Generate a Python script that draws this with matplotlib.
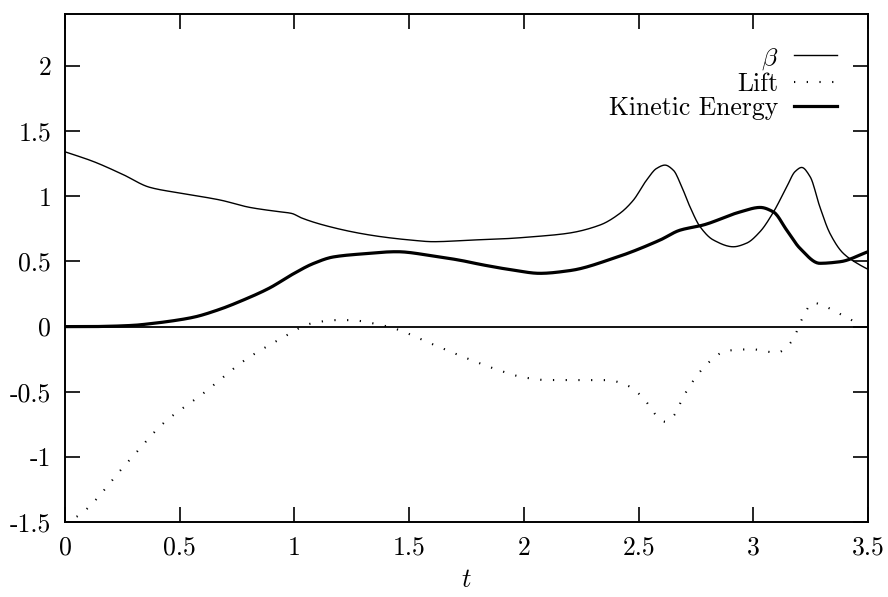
import matplotlib
matplotlib.use("Agg")
import matplotlib.pyplot as plt
import numpy as np

plt.rcParams['font.family'] = 'serif'
plt.rcParams['font.serif'] = ['cmr10']
plt.rcParams['mathtext.fontset'] = 'cm'
plt.rcParams['axes.unicode_minus'] = False

# beta (thin solid)
beta_t = [0.0, 0.12, 0.25, 0.37, 0.52, 0.676, 0.806, 0.92, 0.988, 1.03, 1.126, 1.286, 1.40, 1.504,
          1.605, 1.78, 1.92, 2.04, 2.19, 2.332, 2.419, 2.477, 2.535, 2.579, 2.615, 2.652, 2.688,
          2.724, 2.768, 2.826, 2.913, 2.97, 3.03, 3.088, 3.146, 3.182, 3.211, 3.248, 3.29, 3.334,
          3.392, 3.465, 3.5]
beta_v = [1.342, 1.27, 1.17, 1.069, 1.02, 0.972, 0.915, 0.885, 0.869, 0.835, 0.78, 0.716, 0.685, 0.665,
          0.652, 0.665, 0.675, 0.69, 0.716, 0.78, 0.87, 0.97, 1.125, 1.215, 1.24, 1.20, 1.074,
          0.92, 0.767, 0.665, 0.613, 0.64, 0.73, 0.88, 1.074, 1.19, 1.222, 1.15, 0.92, 0.716,
          0.563, 0.473, 0.44]

# kinetic energy (thick solid)
ke_t = [0.0, 0.1, 0.2, 0.3, 0.37, 0.46, 0.56, 0.67, 0.777, 0.89, 0.995, 1.082, 1.17, 1.286, 1.446,
        1.606, 1.72, 1.824, 1.95, 2.07, 2.2, 2.39, 2.594, 2.68, 2.782, 2.942, 3.03, 3.088, 3.146,
        3.204, 3.29, 3.378, 3.5]
ke_v = [0.0, 0.0, 0.003, 0.01, 0.022, 0.042, 0.072, 0.13, 0.204, 0.295, 0.405, 0.484, 0.535, 0.557, 0.575,
        0.542, 0.51, 0.473, 0.435, 0.409, 0.43, 0.524, 0.665, 0.74, 0.78, 0.88, 0.915, 0.88, 0.74,
        0.6, 0.486, 0.498, 0.575]

# lift (dotted)
lift_t = [0.0, 0.051, 0.269, 0.429, 0.603, 0.785, 0.944, 1.075, 1.184, 1.242, 1.344, 1.446, 1.576,
          1.751, 1.9, 2.0, 2.1, 2.194, 2.36, 2.456, 2.521, 2.58, 2.615, 2.652, 2.695, 2.746, 2.804,
          2.885, 2.993, 3.102, 3.17, 3.21, 3.261, 3.306, 3.386, 3.45]
lift_v = [-1.5, -1.459, -1.049, -0.742, -0.512, -0.256, -0.09, 0.025, 0.05, 0.05, 0.025, -0.02, -0.116,
          -0.243, -0.34, -0.39, -0.41, -0.41, -0.41, -0.456, -0.55, -0.686, -0.73, -0.686, -0.538, -0.397,
          -0.277, -0.185, -0.174, -0.2, -0.108, 0.05, 0.183, 0.16, 0.089, 0.03]

xticks = [0, 0.5, 1, 1.5, 2, 2.5, 3, 3.5]
xticklabels = ['0', '0.5', '1', '1.5', '2', '2.5', '3', '3.5']
yticks = [-1.5, -1, -0.5, 0, 0.5, 1, 1.5, 2]
yticklabels = ['-1.5', '-1', '-0.5', '0', '0.5', '1', '1.5', '2']


def smooth(t, v, n=800):
    t = np.asarray(t, float)
    v = np.asarray(v, float)
    tt = np.linspace(t[0], t[-1], n)
    h = np.diff(t)
    d = np.diff(v) / h
    m = np.zeros_like(v)
    m[0], m[-1] = d[0], d[-1]
    for i in range(1, len(v) - 1):
        if d[i - 1] * d[i] <= 0:
            m[i] = 0.0
        else:
            w1 = 2 * h[i] + h[i - 1]
            w2 = h[i] + 2 * h[i - 1]
            m[i] = (w1 + w2) / (w1 / d[i - 1] + w2 / d[i])
    idx = np.clip(np.searchsorted(t, tt) - 1, 0, len(t) - 2)
    hh = h[idx]
    s = (tt - t[idx]) / hh
    h00 = 2 * s**3 - 3 * s**2 + 1
    h10 = s**3 - 2 * s**2 + s
    h01 = -2 * s**3 + 3 * s**2
    h11 = s**3 - s**2
    vv = h00 * v[idx] + h10 * hh * m[idx] + h01 * v[idx + 1] + h11 * hh * m[idx + 1]
    return tt, vv


fig = plt.figure(figsize=(8.88, 5.97), dpi=100)
ax = fig.add_axes([65 / 888, 1 - 522 / 597, (868 - 65) / 888, (522 - 14) / 597])

ax.axhline(0, color='black', lw=1.3, zorder=1)

bt, bv = smooth(beta_t, beta_v)
kt, kv = smooth(ke_t, ke_v)
lt, lv = smooth(lift_t, lift_v)

ax.plot(bt, bv, color='black', lw=1.0, label=r'$\beta$')
ax.plot(lt, lv, color='black', lw=1.5, linestyle=(0, (0.6, 5.5)), label='Lift')
ax.plot(kt, kv, color='black', lw=2.3, label='Kinetic Energy')

ax.set_xlim(0, 3.5)
ax.set_ylim(-1.5, 2.4)
ax.set_xticks(xticks)
ax.set_xticklabels(xticklabels)
ax.set_yticks(yticks)
ax.set_yticklabels(yticklabels)
ax.tick_params(direction='in', length=11, width=1.2, top=True, right=True,
               labelsize=18.5, pad=10)
for sp in ax.spines.values():
    sp.set_linewidth(1.4)

ax.set_xlabel(r'$t$', fontsize=19, labelpad=6)

leg = ax.legend(loc='upper right', bbox_to_anchor=(0.974, 0.958), frameon=False,
                markerfirst=False, alignment='right', fontsize=18.5,
                handlelength=1.65, handletextpad=0.62, labelspacing=0.02,
                borderaxespad=0.0)

fig.savefig('out.png', dpi=100)
